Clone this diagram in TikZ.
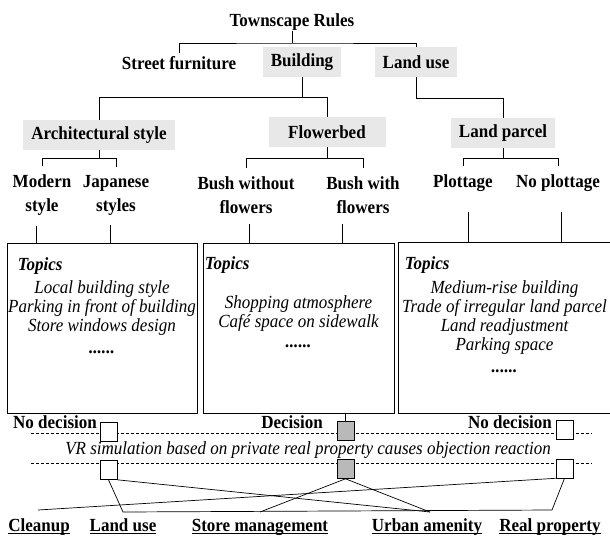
\documentclass[tikz,border=0pt]{standalone}
\usepackage{fontspec}
\setmainfont{Liberation Serif}[FakeStretch=0.92]
\usetikzlibrary{positioning}

\newcommand{\rulesbf}{\fontsize{18.5}{24}\selectfont\bfseries}
\newcommand{\rulesit}{\fontsize{18.5}{19}\selectfont\itshape}
\newcommand{\ulbl}[1]{\setbox0\hbox{#1}\rlap{\rule[-2.5pt]{\wd0}{.8pt}}\box0}

\begin{document}
\begin{tikzpicture}[x=1pt,y=-1pt,
every node/.style={inner sep=0pt,font=\rulesbf,align=center},
greybox/.style={fill=gray!18,minimum height=30pt,inner xsep=8pt},
topicbox/.style={draw,line width=.9pt,minimum height=170pt},
itemlist/.style={font=\rulesit,anchor=north},
choice/.style={draw,fill=white,line width=.6pt,minimum width=17pt,minimum height=19pt},
dchoice/.style={choice,fill=gray!55},
dashln/.style={dash pattern=on 3pt off 2pt,line width=.5pt},
outcome/.style={anchor=base},
go/.style={line width=.7pt}]
\useasboundingbox (0,0) rectangle (610,536);
% rules tree
\node (title) at (292,22) {Townscape Rules};
\node (street) at (179,63) {Street furniture};
\node[greybox] (build) at (302,62) {Building};
\node[greybox] (landuse) at (416,62) {Land use};
\node[greybox] (arch) at (99,135) {Architectural style};
\node[greybox,minimum width=117pt] (flower) at (327,132) {Flowerbed};
\node[greybox] (parcel) at (503,133) {Land parcel};
\node (modern) at (42,195) {Modern\\style};
\node (japan) at (116,195) {Japanese\\styles};
\node (bwo) at (246,195) {Bush without\\flowers};
\node (bwi) at (363,195) {Bush with\\flowers};
\node (plot) at (463,183) {Plottage};
\node (noplot) at (558,183) {No plottage};
\coordinate (j0) at (292,43);
\draw[go] (title) -- (j0);
\draw[go] ([yshift=3pt]street.north) |- (j0) -| (landuse.north);
\draw[go] (build.south) -- ++(0,20) coordinate (j1);
\draw[go] (arch.north) |- (j1) -| (flower.north);
\draw[go] (landuse.south) -- ++(0,21) -| (parcel.north);
\draw[go] (arch.south) -- ++(0,8) coordinate (j2);
\draw[go] ([yshift=8pt]modern.north) |- (j2) -| ([yshift=8pt]japan.north);
\draw[go] (flower.south) -- ++(0,11) coordinate (j3);
\draw[go] ([yshift=8pt]bwo.north) |- (j3) -| ([yshift=8pt]bwi.north);
\draw[go] (parcel.south) -- ++(0,10) coordinate (j4);
\draw[go] ([yshift=8pt]plot.north) |- (j4) -| ([yshift=8pt]noplot.north);
% topic boxes
\node[topicbox,minimum width=190pt] (box1) at (102,328) {};
\node[topicbox,minimum width=191pt] (box2) at (298.5,328) {};
\node[topicbox,draw=none,minimum width=211pt] (box3) at (504.5,328) {};
\draw[line width=.9pt] (box3.north east) -- (box3.north west) -- (box3.south west) -- (box3.south east);
\draw[go] ([xshift=-6pt,yshift=-10pt]modern.south) -- ([xshift=-6pt]box1.north -| modern.south);
\draw[go] ([xshift=-6pt,yshift=-10pt]japan.south) -- ([xshift=-6pt]box1.north -| japan.south);
\draw[go] ([xshift=3pt,yshift=-10pt]bwo.south) -- ([xshift=3pt]box2.north -| bwo.south);
\draw[go] ([xshift=-21pt,yshift=-10pt]bwi.south) -- ([xshift=-21pt]box2.north -| bwi.south);
\draw[go] ([xshift=5pt,yshift=-20pt]plot.south) -- ([xshift=5pt]box3.north -| plot.south);
\draw[go] ([xshift=3pt,yshift=-20pt]noplot.south) -- ([xshift=3pt]box3.north -| noplot.south);
\node[anchor=base west,font=\rulesit\bfseries] (top1) at ([xshift=11pt,yshift=-28pt]box1.north west) {Topics};
\node[anchor=base west,font=\rulesit\bfseries] (top2) at ([xshift=2pt,yshift=-27pt]box2.north west) {Topics};
\node[anchor=base west,font=\rulesit\bfseries] (top3) at ([xshift=6pt,yshift=-27pt]box3.north west) {Topics};
\node[itemlist] (it1) at ([yshift=-38pt]box1.north) {Local building style\\Parking in front of building\\Store windows design\\[3pt]\textbf{......}};
\node[itemlist] (it2) at ([yshift=-53pt]box2.north) {Shopping atmosphere\\Caf\'e space on sidewalk\\[1pt]\textbf{......}};
\node[itemlist] (it3) at ([yshift=-38pt]box3.north) {Medium-rise building\\Trade of irregular land parcel\\Land readjustment\\Parking space\\[3pt]\textbf{......}};
% decision band
\draw[dashln] (31,433) -- (592,433);
\draw[dashln] (31,463) -- (592,463);
\node (nodl) at (55,422) {No decision};
\node (dec) at (292,422) {Decision};
\node (nodr) at (510,422) {No decision};
\node[choice] (cl1) at (108.5,431.5) {};
\node[dchoice] (cd1) at (345.5,430.5) {};
\node[choice] (cr1) at (564.5,430) {};
\node[font=\rulesit] (vr) at (308,450) {VR simulation based on private real property causes objection reaction};
\node[choice] (cl2) at (108.5,470) {};
\node[dchoice] (cd2) at (345.5,469) {};
\node[choice] (cr2) at (564.5,468.5) {};
\draw[go] (box2.south -| cd1.north) -- (cd1.north);
% outcomes
\node[outcome] (clean) at (39,531) {\ulbl{Cleanup}};
\node[outcome] (lu2) at (123,531) {\ulbl{Land use}};
\node[outcome] (store) at (260,531) {\ulbl{Store management}};
\node[outcome] (urban) at (427,531) {\ulbl{Urban amenity}};
\node[outcome] (realp) at (550,531) {\ulbl{Real property}};
\coordinate (pclean) at (38,510);
\coordinate (pland) at (123,512);
\coordinate (pstore) at (260,512);
\coordinate (purban) at (430,512);
\coordinate (preal) at (552,510);
\draw[go] (cl2.south) -- (pland) -- (preal) -- (cr2.south);
\draw[go] (cl2.south east) -- (purban);
\draw[go] (cd2.south) -- (pstore);
\draw[go] (cd2.south) -- (purban);
\draw[go] (pclean) -- (cr2.south west);
\end{tikzpicture}
\end{document}
